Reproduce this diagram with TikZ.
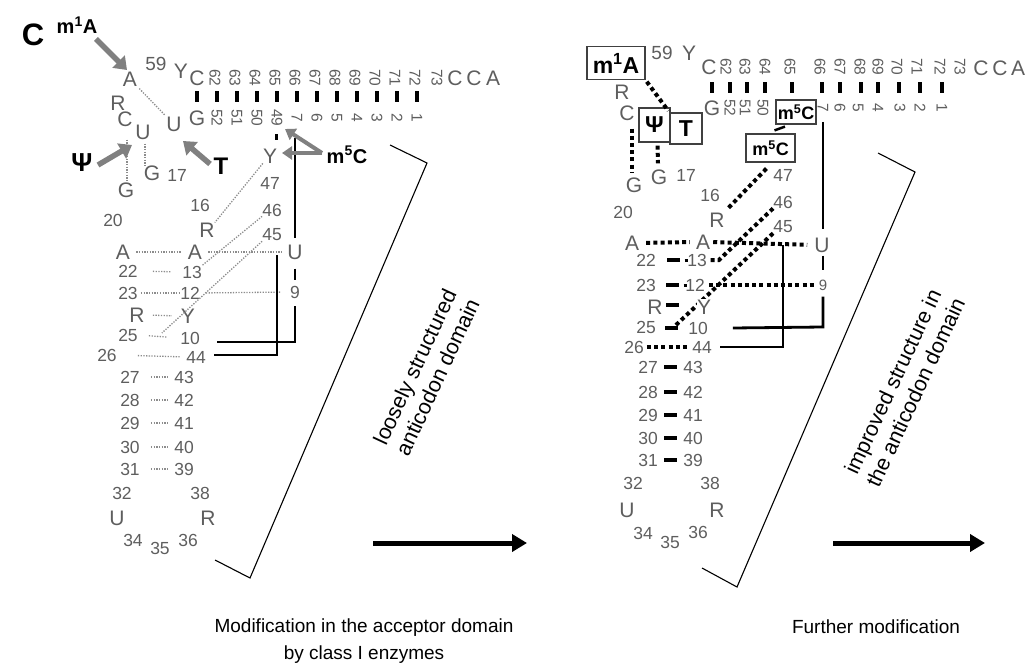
\documentclass[tikz,border=0pt]{standalone}
\usepackage{fontspec}
\setmainfont{Liberation Sans}
\usetikzlibrary{arrows.meta,calc}
\definecolor{txtg}{HTML}{5E5E5E}
\definecolor{arrg}{HTML}{808080}
\definecolor{dotg}{HTML}{8C8C8C}
\newcommand\fLet{\fontsize{21}{23}\selectfont}
\newcommand\fNum{\fontsize{17.5}{19}\selectfont}
\newcommand\fRot{\fontsize{15.5}{17}\selectfont}
\newcommand\fBold{\bfseries\fontsize{23}{25}\selectfont}
\begin{document}
\begin{tikzpicture}[x=1pt,y=-1pt,
  lt/.style={text=txtg,font=\fLet,inner sep=0pt},
  nm/.style={text=txtg,font=\fNum,inner sep=0pt},
  rn/.style={text=txtg,font=\fRot,inner sep=0pt,rotate=-90},
  bl/.style={font=\fBold,inner sep=0pt},
  gdot/.style={draw=dotg,line width=1.3pt,dash pattern=on 1.3pt off 1.4pt},
  bdot/.style={draw=black,line width=4pt,dash pattern=on 4pt off 3.2pt},
  pbar/.style={fill=black,inner sep=0pt,minimum width=4.5pt,minimum height=11pt},
  hbar/.style={fill=black,inner sep=0pt,minimum width=13pt,minimum height=4.5pt},
  bline/.style={draw=black,line width=2.8pt},
  garr/.style={draw=arrg,line width=5.5pt,-{Triangle[length=12pt,width=17pt]}},
  sgarr/.style={draw=arrg,line width=4pt,-{Triangle[length=10pt,width=13pt]}},
  bigarr/.style={draw=black,line width=5pt,-{Triangle[length=15pt,width=17pt]}},
  brk/.style={draw=black,line width=1.1pt},
  mbox/.style={draw=black!75,line width=1.2pt,inner sep=0pt,font=\fBold},
  captxt/.style={font=\fontsize{19}{27}\selectfont,inner sep=0pt,align=center},
]
\path[use as bounding box] (0,0) rectangle (1027,668);

%================ LEFT PANEL =================
\node[bl,font=\bfseries\fontsize{31}{33}\selectfont] (Cpanel) at (33,35) {C};
\node[bl,font=\bfseries\fontsize{20}{22}\selectfont] (LmA) at (77,25) {m\textsuperscript{1}A};
\node[lt] (LA58) at (130,79) {A};
\node[nm,font=\fontsize{19}{21}\selectfont] (L59) at (156,64) {59};
\node[lt] (LY60) at (181,71) {Y};
\node[lt] (LC61) at (197,78) {C};
\node[lt] (LG53) at (197,118) {G};
\node[lt] (LR57) at (118,103) {R};
\node[lt] (LC56) at (125,119) {C};
\node[lt] (LU55) at (143,132) {U};
\node[lt] (LU54) at (174,124) {U};
\node[lt] (LG18) at (152,173) {G};
\node[nm] (L17) at (177,175) {17};
\node[lt] (LG19) at (126,190) {G};
\node[bl,font=\bfseries\fontsize{26}{28}\selectfont] (LPsi) at (82,163) {Ψ};
\node[bl,font=\bfseries\fontsize{24}{26}\selectfont] (LT) at (221,166) {T};
\node[lt] (LY48) at (270,156) {Y};
\node[bl,font=\bfseries\fontsize{20}{22}\selectfont] (Lm5C) at (347,155) {m\textsuperscript{5}C};
\node[nm] (L47) at (270,183) {47};
\node[nm] (L46) at (272,210) {46};
\node[nm] (L45) at (272,235) {45};
\node[nm] (L16) at (200,205) {16};
\node[nm] (L20) at (113,220) {20};
\node[lt] (LR15) at (207,230) {R};
\node[lt] (LA21) at (123,252) {A};
\node[lt] (LA14) at (195,252) {A};
\node[lt] (LU8) at (295,252) {U};
\node[nm] (L22) at (128,271) {22};
\node[nm] (L13) at (192,272) {13};
\node[nm] (L23) at (128,293) {23};
\node[nm] (L12) at (190,293) {12};
\node[nm] (L9) at (295,292) {9};
\node[lt] (LR24) at (137,315) {R};
\node[lt] (LY11) at (188,316) {Y};
\node[nm] (L25) at (128,335) {25};
\node[nm] (L10) at (190,338) {10};
\node[nm] (L26) at (107,355) {26};
\node[nm] (L44) at (196,357) {44};
\foreach \a/\b/\y in {27/43/377,28/42/400,29/41/423,30/40/447,31/39/469} {
  \node[nm] (L\a) at (130,\y) {\a};
  \node[nm] (L\b) at (184,\y) {\b};
  \draw[gdot,shorten <=11pt,shorten >=6pt] (L\a.east) -- (L\b.west);
}
\node[nm] (L32) at (122,493) {32};
\node[nm] (L38) at (200,493) {38};
\node[lt] (LU33) at (117,518) {U};
\node[lt] (LR37) at (208,518) {R};
\node[nm] (L34) at (133,540) {34};
\node[nm] (L35) at (160,548) {35};
\node[nm] (L36) at (188,540) {36};

% acceptor stem (left)
\foreach \n [count=\i] in {62,...,72} {\node[rn] (Lt\n) at ({197+20*\i-2},78) {\n};}
\node[rn] (Lt73) at (437,78) {73};
\node[lt] (LC74) at (455,78) {C};
\node[lt] (LC75) at (474,78) {C};
\node[lt] (LA76) at (493,78) {A};
\foreach \n [count=\i] in {52,51,50,49,7,6,5,4,3,2,1} {\node[rn] (Lb\n) at ({197+20*\i},118) {\n};}
\foreach \i in {0,...,11} {\node[pbar] (Lbar\i) at ({197+20*\i},97) {};}
\node[fill=black,inner sep=0pt,minimum width=3pt,minimum height=6pt] (Ldot) at (276,137) {};

% gray dotted pairings (left)
\draw[gdot,shorten <=3pt,shorten >=2pt] (LA58.south east) -- (LU54.north west);
\draw[gdot,shorten <=13pt] ($(LC56.south)+(2,0)$) -- ($(LG19.north)+(1,0)$);
\draw[gdot,shorten <=4pt] ($(LU55.south)+(2,0)$) -- ($(LG18.north)+(-7,0)$);
\draw[gdot] (LY48.south west) -- (LR15.north east);
\draw[gdot] (L46.south west) -- (L13.north east);
\draw[gdot] (L45.south west) -- ($(L25.east)+(24,-2)$);
\draw[gdot,shorten <=6pt,shorten >=6pt] (LA21.east) -- (LA14.west);
\draw[gdot,shorten <=6pt,shorten >=5pt] (LA14.east) -- (LU8.west);
\draw[gdot,shorten <=15pt,shorten >=11pt] (L22.east) -- (L13.west);
\draw[gdot,shorten <=3pt,shorten >=1pt] (L23.east) -- (L12.west);
\draw[gdot,shorten <=6pt,shorten >=9pt] (L12.east) -- (L9.west);
\draw[gdot,shorten <=8pt,shorten >=9pt] (LR24.east) -- (LY11.west);
\draw[gdot,shorten <=11pt,shorten >=13pt] (L25.east) -- (L10.west);
\draw[gdot,shorten <=21pt,shorten >=6pt] (L26.east) -- (L44.west);

% black tertiary lines (left)
\coordinate (LJ1) at (295,138);
\coordinate (LJ2) at (295,342);
\coordinate (LJ3) at (277,255);
\coordinate (LJ4) at (277,355);
\draw[bline] (LJ1) -- ($(LU8.north)+(0,-6)$);
\draw[bline] ($(LU8.south)+(0,9)$) -- ($(L9.north)+(0,-6)$);
\draw[bline] ($(L9.south)+(0,8)$) -- (LJ2) -- ($(L10.east)+(17,4)$);
\draw[bline] (LJ3) -- (LJ4) -- ($(L44.east)+(8,-2)$);

% gray arrows (left)
\coordinate (LaS1) at (96,39);  \coordinate (LaE1) at (127,70);
\coordinate (LaS2) at (98,165); \coordinate (LaE2) at (132,145);
\coordinate (LaS3) at (210,164); \coordinate (LaE3) at (183,141);
\coordinate (LaS4) at (322,153); \coordinate (LaE4) at (282,153);
\coordinate (LaE5) at (285,129);
\draw[garr] (LaS1) -- (LaE1);
\draw[garr] (LaS2) -- (LaE2);
\draw[garr] (LaS3) -- (LaE3);
\draw[sgarr] (LaS4) -- (LaE4);
\draw[sgarr] (LaS4) -- (LaE5);

% bracket + caption + arrow (left)
\coordinate (LB1) at (390,145); \coordinate (LB2) at (427,163);
\coordinate (LB3) at (250,578); \coordinate (LB4) at (215,560);
\draw[brk] (LB1) -- (LB2) -- (LB3) -- (LB4);
\node[captxt,rotate=65,font=\fontsize{21.5}{25}\selectfont] (Lrot) at (426,372) {loosely structured\\anticodon domain};
\coordinate (LarS) at (373,543); \coordinate (LarE) at (527,543);
\draw[bigarr] (LarS) -- (LarE);
\node[captxt] (Lcap) at (364,641) {Modification in the acceptor domain\\by class I enzymes};

%================ RIGHT PANEL =================
\node[mbox,minimum width=58pt,minimum height=33pt,font=\bfseries\fontsize{23}{25}\selectfont] (RmA) at (616,63) {m\textsuperscript{1}A};
\node[nm,font=\fontsize{19}{21}\selectfont] (R59) at (662,53) {59};
\node[lt] (RY60) at (689,53) {Y};
\node[lt] (RC61) at (709,67) {C};
\node[lt] (RG53) at (712,108) {G};
\node[lt] (RR57) at (622,92) {R};
\node[lt] (RC56) at (627,113) {C};
\node[mbox,minimum width=31pt,minimum height=34pt] (RPsi) at (654.5,125) {Ψ};
\node[mbox,minimum width=32pt,minimum height=31pt] (RT) at (686,128.5) {T};
\node[lt] (RG19) at (634,185) {G};
\node[lt] (RG18) at (659,177) {G};
\node[nm] (R17) at (686,175) {17};
\node[mbox,minimum width=40pt,minimum height=24pt,font=\bfseries\fontsize{18}{20}\selectfont] (Rm5a) at (796,112) {m\textsuperscript{5}C};
\node[mbox,minimum width=49pt,minimum height=28pt,font=\bfseries\fontsize{18}{20}\selectfont] (Rm5b) at (770.5,148) {m\textsuperscript{5}C};
\node[nm] (R47) at (783,175) {47};
\node[nm] (R46) at (783,202) {46};
\node[nm] (R45) at (783,227) {45};
\node[nm] (R16) at (710,195) {16};
\node[nm] (R20) at (623,212) {20};
\node[lt] (RR15) at (717,220) {R};
\node[lt] (RA21) at (632,243) {A};
\node[lt] (RA14) at (703,242) {A};
\node[lt] (RU8) at (822,245) {U};
\node[nm] (R22) at (646,260) {22};
\node[nm] (R13) at (697,260) {13};
\node[nm] (R23) at (646,285) {23};
\node[nm] (R12) at (695,285) {12};
\node[nm,font=\fontsize{15}{17}\selectfont] (R9) at (823,285) {9};
\node[lt] (RR24) at (655,307) {R};
\node[nm] (R25) at (646,327) {25};
\node[nm] (R10) at (698,328) {10};
\node[nm] (R26) at (634,347) {26};
\node[nm] (R44) at (702,347) {44};
\node[hbar] (Rh22) at (673,260) {};
\node[hbar] (Rh23) at (672,285) {};
\node[hbar] (Rh24) at (672,305) {};
\node[hbar] (Rh25) at (671,328) {};
\foreach \a/\b/\y in {27/43/367,28/42/392,29/41/415,30/40/438,31/39/460} {
  \node[nm] (R\a) at (648,\y) {\a};
  \node[nm] (R\b) at (693,\y) {\b};
  \node[hbar] (Rh\a) at (670,\y) {};
}
\node[nm] (R32) at (633,483) {32};
\node[nm] (R38) at (710,483) {38};
\node[lt] (RU33) at (627,510) {U};
\node[lt] (RR37) at (717,510) {R};
\node[nm] (R34) at (643,533) {34};
\node[nm] (R35) at (670,542) {35};
\node[nm] (R36) at (698,532) {36};

% acceptor stem (right)
\foreach \n/\x in {62/726,63/745,64/765,65/790,66/820,67/840,68/860,69/878,70/897,71/917,72/940,73/960} {\node[rn] (Rt\n) at (\x,67) {\n};}
\node[lt] (RC74) at (981,68) {C};
\node[lt] (RC75) at (1000,68) {C};
\node[lt] (RA76) at (1018,68) {A};
\foreach \n/\x in {52/730,51/745,50/763,7/823,6/840,5/858,4/878,3/900,2/920,1/942} {\node[rn] (Rb\n) at (\x,108) {\n};}
\foreach \x [count=\i] in {712,730,747,765,792,822,840,861,878,899,920,942} {\node[pbar] (Rbar\i) at (\x,88) {};}

% black dotted pairings (right)
\draw[bdot,shorten <=2pt,shorten >=2pt] (RmA.south east) -- (RT.north west);
\draw[bdot] ($(RC56.south)+(5,8)$) -- ($(RG19.north)+(-2,-5)$);
\draw[bdot] ($(RPsi.south)+(3,3)$) -- ($(RG18.north)+(-1,-6)$);
\draw[line width=2.5pt] ($(Rm5a.south)+(-11,2)$) -- ($(Rm5b.north)+(4,-3)$);
\draw[bdot] ($(Rm5b.south west)+(21,6)$) -- ($(RR15.north east)+(3,-4)$);
\draw[bdot,shorten <=7pt,shorten >=6pt] (RA21.east) -- (RA14.west);
\draw[bdot,shorten <=3pt,shorten >=7pt] (RA14.east) -- (RU8.west);
\draw[bdot] (R46.south west) -- ($(R13.east)+(12,0)$) -- ($(R13.east)+(2,0)$);
\draw[bdot] (R45.south west) -- ($(R25.east)+(19,-1)$);
\draw[bdot,shorten <=4pt,shorten >=3pt] (R12.east) -- (R9.west);
\draw[bdot,shorten <=3pt,shorten >=3pt] (R26.east) -- (R44.west);
\draw[line width=3pt] ($(Rh22.east)+(5,0)$) -- ($(Rh22.east)+(8,0)$);
\draw[line width=3pt] ($(Rh23.east)+(5,0)$) -- ($(Rh23.east)+(8,0)$);
\node[lt,fill=white,inner sep=0.5pt] (RY11) at (704,307) {Y};

% black tertiary lines (right)
\coordinate (RJ1) at (823,122);
\coordinate (RJ2) at (823,327);
\coordinate (RJ3) at (783,245);
\coordinate (RJ4) at (783,347);
\draw[bline] (RJ1) -- ($(RU8.north)+(1,-8)$);
\draw[bline] ($(RU8.south)+(1,3)$) -- ($(R9.north)+(0,-9)$);
\draw[bline] ($(R9.south)+(0,6)$) -- (RJ2) -- ($(R10.east)+(25,0)$);
\draw[bline] (RJ3) -- (RJ4) -- ($(R44.east)+(8,0)$);

% bracket + caption + arrow (right)
\coordinate (RB1) at (878,153); \coordinate (RB2) at (915,172);
\coordinate (RB3) at (737,587); \coordinate (RB4) at (702,568);
\draw[brk] (RB1) -- (RB2) -- (RB3) -- (RB4);
\node[captxt,rotate=65,font=\fontsize{21.5}{25}\selectfont] (Rrot) at (904,387) {improved structure in\\the anticodon domain};
\coordinate (RarS) at (833,543); \coordinate (RarE) at (985,543);
\draw[bigarr] (RarS) -- (RarE);
\node[captxt] (Rcap) at (876,627) {Further modification};
\end{tikzpicture}
\end{document}
